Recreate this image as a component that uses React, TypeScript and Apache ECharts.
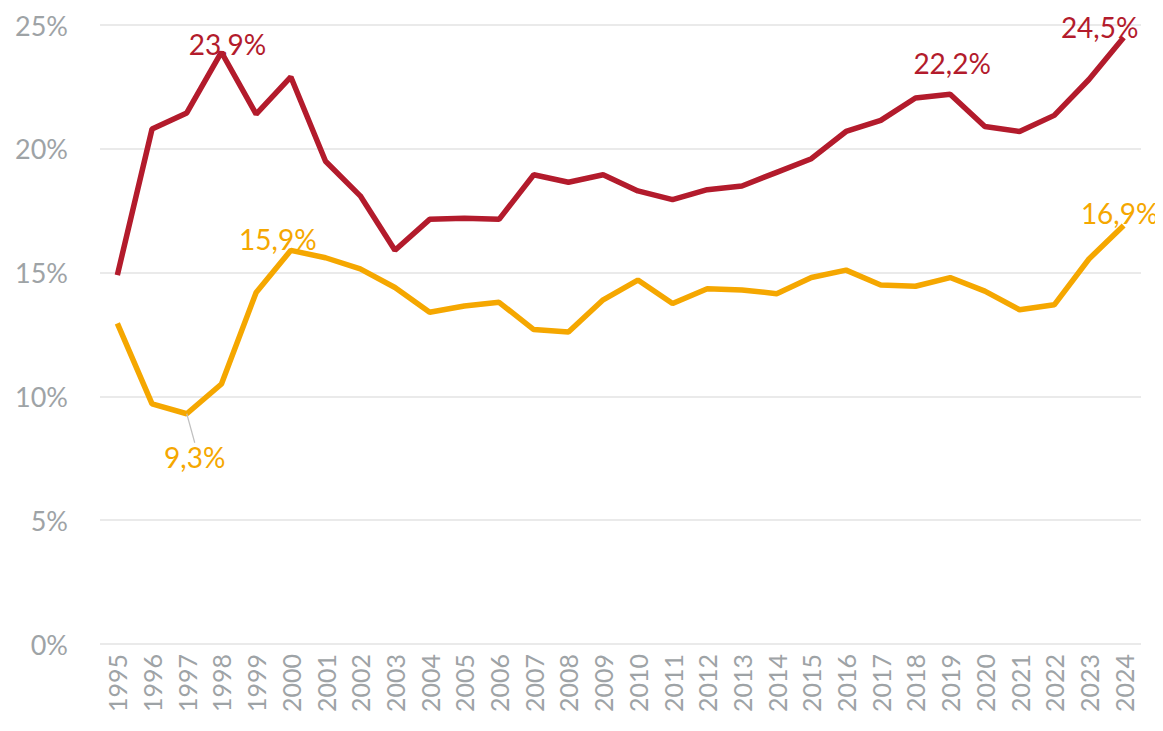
import React, { useEffect, useRef } from "react";
import * as echarts from "echarts";

const years = [
  "1995", "1996", "1997", "1998", "1999", "2000", "2001", "2002", "2003", "2004",
  "2005", "2006", "2007", "2008", "2009", "2010", "2011", "2012", "2013", "2014",
  "2015", "2016", "2017", "2018", "2019", "2020", "2021", "2022", "2023", "2024",
];

const redValues = [
  14.9, 20.8, 21.45, 23.9, 21.4, 22.9, 19.5, 18.1, 15.9, 17.15,
  17.2, 17.15, 18.95, 18.65, 18.95, 18.3, 17.95, 18.35, 18.5, 19.05,
  19.6, 20.7, 21.15, 22.05, 22.2, 20.9, 20.7, 21.35, 22.8, 24.5,
];

const orangeValues = [
  12.95, 9.7, 9.3, 10.5, 14.2, 15.9, 15.6, 15.15, 14.4, 13.4,
  13.65, 13.8, 12.7, 12.6, 13.9, 14.7, 13.75, 14.35, 14.3, 14.15,
  14.8, 15.1, 14.5, 14.45, 14.8, 14.25, 13.5, 13.7, 15.55, 16.9,
];

const yTicks = [0, 5, 10, 15, 20, 25];

const RED = "#B31B2C";
const ORANGE = "#F5A700";
const GRAY = "#9EA3A6";
const FONT = "Lato, 'Open Sans', sans-serif";
const LABEL_SIZE = 28;

const fmt = (v: number) => v.toFixed(1).replace(".", ",") + "%";

// label placements: index -> [position, dx, dy]
const redLabels: Record<number, [string, number, number]> = {
  3: ["top", 6, 11],
  24: ["top", 2, -12],
  29: ["top", -24, 9],
};
const orangeLabels: Record<number, [string, number, number]> = {
  2: ["bottom", 8, 24],
  5: ["top", -13, 8],
  29: ["top", -4, 6],
};

function buildData(values: number[], labels: Record<number, [string, number, number]>, color: string) {
  return values.map((v, i) => {
    const l = labels[i];
    if (!l) return v;
    return {
      value: v,
      label: {
        show: true,
        position: l[0],
        formatter: () => fmt(v),
        color,
        fontSize: LABEL_SIZE,
        fontFamily: FONT,
      },
    };
  });
}

function layoutFor(labels: Record<number, [string, number, number]>) {
  return (p: any) => {
    const l = labels[p.dataIndex];
    return l ? { dx: l[1], dy: l[2] } : {};
  };
}

export default function App() {
  const ref = useRef<HTMLDivElement>(null);

  useEffect(() => {
    if (!ref.current) return;
    const chart = echarts.init(ref.current, undefined, { renderer: "svg" });

    const orangeData: any[] = buildData(orangeValues, orangeLabels, ORANGE);
    orangeData[2] = {
      ...orangeData[2],
      labelLine: { show: true, lineStyle: { color: "#C0C0C0", width: 1.2 } },
    };

    const common = {
      type: "line",
      symbol: "circle",
      symbolSize: 0.1,
      showSymbol: true,
      showAllSymbol: true,
      label: { show: false },
    };

    chart.setOption({
      animation: false,
      backgroundColor: "#ffffff",
      grid: { left: 100, right: 22, top: 25, bottom: 87, containLabel: false },
      xAxis: {
        type: "category",
        data: years,
        boundaryGap: true,
        axisLine: { show: false },
        axisTick: { show: false },
        axisLabel: {
          rotate: 90,
          color: GRAY,
          fontSize: 25,
          fontFamily: FONT,
          margin: 10,
          interval: 0,
        },
      },
      yAxis: {
        type: "value",
        min: 0,
        max: 25,
        interval: 5,
        axisLine: { show: false },
        axisTick: { show: false },
        splitLine: { lineStyle: { color: "#E3E3E3", width: 1.5 } },
        axisLabel: {
          color: GRAY,
          fontSize: 27,
          fontFamily: FONT,
          margin: 32,
          formatter: (v: number) => (yTicks.includes(v) ? v + "%" : ""),
        },
      },
      series: [
        {
          ...common,
          data: buildData(redValues, redLabels, RED),
          lineStyle: { color: RED, width: 5.5 },
          itemStyle: { color: "rgba(0,0,0,0)" },
          labelLayout: layoutFor(redLabels),
          z: 3,
        },
        {
          ...common,
          data: orangeData,
          lineStyle: { color: ORANGE, width: 5.5 },
          itemStyle: { color: "rgba(0,0,0,0)" },
          labelLayout: layoutFor(orangeLabels),
          z: 2,
        },
      ],
    });

    return () => chart.dispose();
  }, []);

  return <div ref={ref} style={{ width: 1163, height: 731, marginTop: -8, marginLeft: -8 }} />;
}
